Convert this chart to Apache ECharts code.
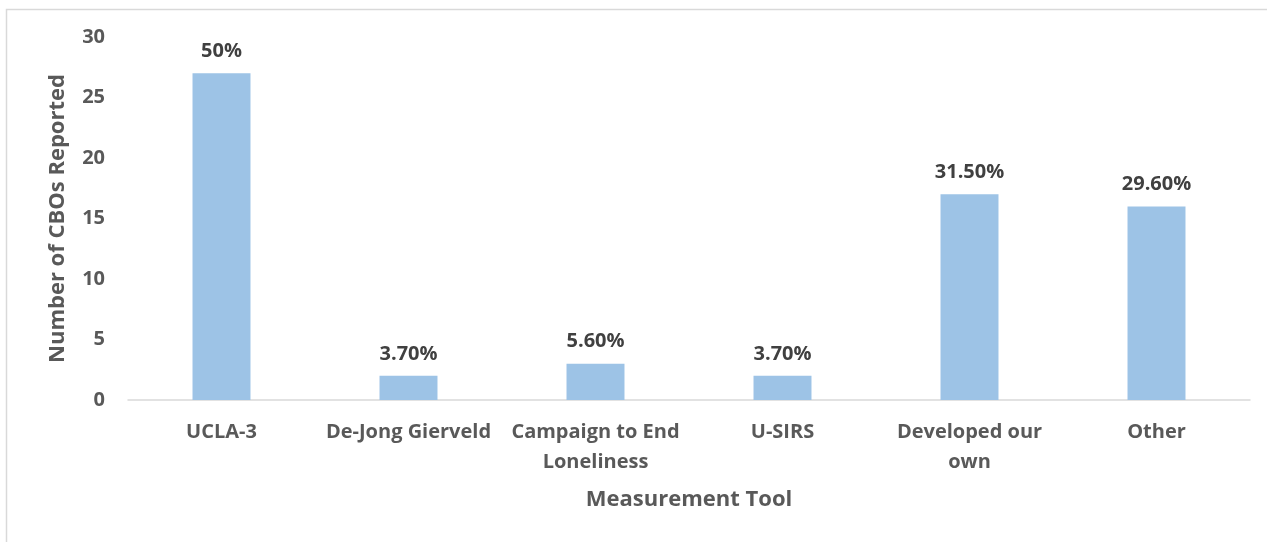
<!DOCTYPE html>
<html>
<head>
<meta charset="utf-8">
<script src="https://cdn.jsdelivr.net/npm/echarts@6/dist/echarts.min.js"></script>
<style>
  html, body { margin: 0; padding: 0; background: #fff; }
  #chart { width: 1267px; height: 542px; }
</style>
</head>
<body>
<div id="chart"></div>
<script>
// Measurement tools used by CBOs
const categories = ['UCLA-3', 'De-Jong Gierveld', 'Campaign to End\nLoneliness', 'U-SIRS', 'Developed our\nown', 'Other'];
const counts = [27, 2, 3, 2, 17, 16];
const shareLabels = ['50%', '3.70%', '5.60%', '3.70%', '31.50%', '29.60%'];
const yTicks = [0, 5, 10, 15, 20, 25, 30];

const FONT = '"Open Sans", Lato, "Liberation Sans", sans-serif';
const chart = echarts.init(document.getElementById('chart'), null, { renderer: 'canvas' });

chart.setOption({
  animation: false,
  backgroundColor: '#ffffff',
  graphic: [{
    type: 'rect',
    shape: { x: 6.5, y: 9.5, width: 1300, height: 600 },
    style: { fill: 'none', stroke: '#d9d9d9', lineWidth: 1.5 },
    silent: true
  }],
  grid: { left: 128, right: 17, top: 37, bottom: 142, containLabel: false },
  xAxis: {
    type: 'category',
    data: categories,
    axisLine: { show: true, lineStyle: { color: '#d9d9d9', width: 1.5 } },
    axisTick: { show: false },
    axisLabel: {
      color: '#595959', fontFamily: FONT, fontWeight: 'bold', fontSize: 20,
      lineHeight: 30, margin: 17, interval: 0
    },
    name: 'Measurement Tool',
    nameLocation: 'middle',
    nameGap: 89,
    nameTextStyle: { color: '#595959', fontFamily: FONT, fontWeight: 'bold', fontSize: 22 }
  },
  yAxis: {
    type: 'value',
    min: yTicks[0],
    max: yTicks[yTicks.length - 1],
    interval: 5,
    splitLine: { show: false },
    axisLine: { show: false },
    axisTick: { show: false },
    axisLabel: {
      color: '#595959', fontFamily: FONT, fontWeight: 'bold', fontSize: 20, margin: 23
    },
    name: 'Number of CBOs Reported',
    nameLocation: 'middle',
    nameGap: 59,
    nameRotate: 90,
    nameTextStyle: { color: '#595959', fontFamily: FONT, fontWeight: 'bold', fontSize: 22 }
  },
  series: [{
    type: 'bar',
    data: counts,
    barWidth: '31%',
    itemStyle: { color: '#9dc3e6' },
    label: {
      show: true,
      position: 'top',
      distance: 12,
      color: '#404040',
      fontFamily: FONT,
      fontWeight: 'bold',
      fontSize: 20,
      formatter: (p) => shareLabels[p.dataIndex]
    }
  }]
});
</script>
</body>
</html>
